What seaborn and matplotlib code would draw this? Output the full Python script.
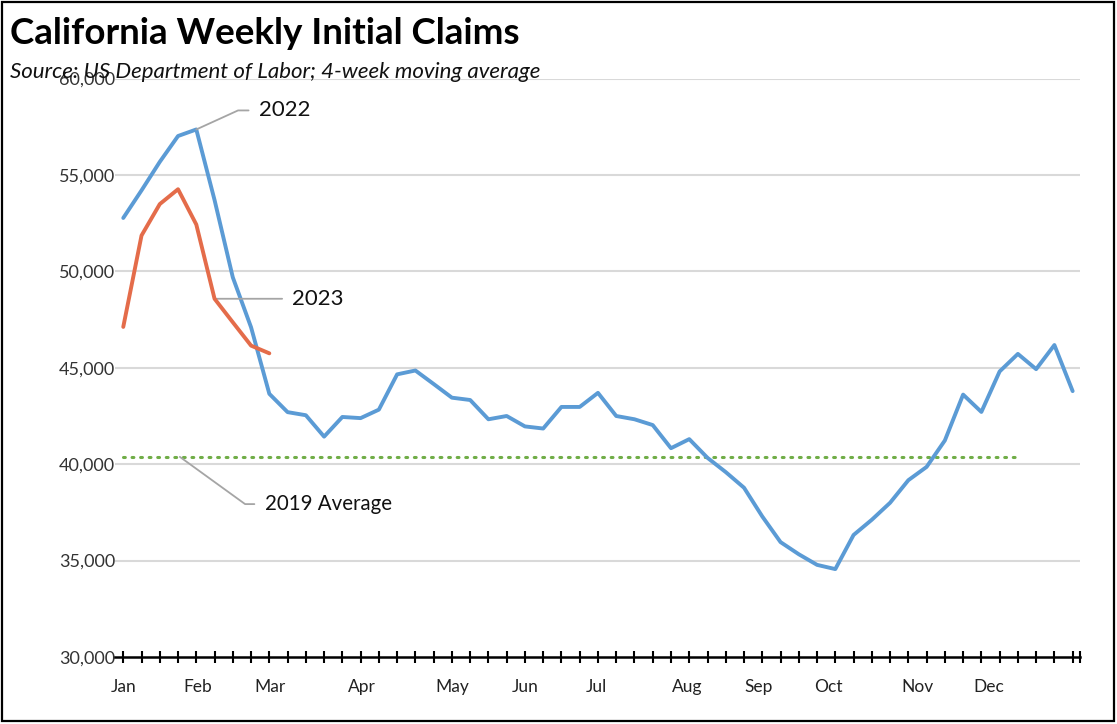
import pandas as pd
import numpy as np
import matplotlib
matplotlib.use('Agg')
import matplotlib.pyplot as plt
from matplotlib.patches import Rectangle
import seaborn as sns

# weekly data, week index 0..52
weeks = list(range(53))
claims_2022 = [52770, 54200, 55680, 57020, 57360, 53700, 49690, 47100, 43650, 42700,
               42540, 41430, 42450, 42390, 42830, 44660, 44860, 44160, 43450, 43330,
               42330, 42500, 41960, 41850, 42970, 42970, 43700, 42500, 42330, 42030,
               40830, 41300, 40330, 39590, 38780, 37290, 35960, 35330, 34780, 34560,
               36330, 37120, 38000, 39170, 39860, 41230, 43610, 42710, 44810, 45720,
               44930, 46180, 43790]
claims_2023 = [47120, 51860, 53490, 54260, 52430, 48580, 47360, 46150, 45750]
avg_2019 = 40380
avg_weeks = 50

month_labels = ['Jan', 'Feb', 'Mar', 'Apr', 'May', 'Jun', 'Jul', 'Aug', 'Sep', 'Oct', 'Nov', 'Dec']
month_pos = [0, 4.06, 8.06, 13.05, 18.04, 22.04, 25.9, 30.9, 34.8, 38.6, 43.5, 47.4]
y_ticks = [30000, 35000, 40000, 45000, 50000, 55000, 60000]

df22 = pd.DataFrame({'week': weeks, 'claims': claims_2022})
df23 = pd.DataFrame({'week': weeks[:len(claims_2023)], 'claims': claims_2023})
df19 = pd.DataFrame({'week': weeks[:avg_weeks], 'claims': [avg_2019] * avg_weeks})

sns.set_theme(style='white')
plt.rcParams['font.family'] = ['Lato', 'DejaVu Sans']

fig = plt.figure(figsize=(11.17, 7.24), dpi=100)
ax = fig.add_axes([0.103, 0.0925, 0.864, 0.799])

#gridlines first so lines sit on top
for v in y_ticks[1:]:
    ax.axhline(v, color='#D9D9D9', linewidth=1.5, zorder=0)

sns.lineplot(data=df19, x='week', y='claims', ax=ax, color='#70AD47',
             linewidth=2.2, linestyle=(0, (0.6, 2.2)), dash_capstyle='round', zorder=2)
sns.lineplot(data=df22, x='week', y='claims', ax=ax, color='#5B9BD5', linewidth=2.8, zorder=3)
sns.lineplot(data=df23, x='week', y='claims', ax=ax, color='#E46C4A', linewidth=2.8, zorder=4)

ax.set_xlim(-0.45, 52.41)
ax.set_ylim(30000, 60000)
ax.set_xlabel('')
ax.set_ylabel('')

# week tick marks, month labels as minor ticks
ax.xaxis.remove_overlapping_locs = False
ax.set_xticks(weeks + [52.41])
ax.set_xticklabels([])
ax.set_xticks(month_pos, minor=True)
ax.set_xticklabels(month_labels, minor=True)
ax.tick_params(axis='x', which='major', direction='inout', length=8, width=1.5, color='black', bottom=True)
ax.tick_params(axis='x', which='minor', length=0, pad=16, labelsize=12.5, labelcolor='#222222')

ax.set_yticks(y_ticks)
ax.set_yticklabels(['{:,}'.format(v) for v in y_ticks])
ax.tick_params(axis='y', length=0, pad=0, labelsize=13, labelcolor='#333333')

for s in ['top', 'right', 'left']:
    ax.spines[s].set_visible(False)
ax.spines['bottom'].set_color('black')
ax.spines['bottom'].set_linewidth(1.8)
ax.spines['bottom'].set_zorder(5)

# leader line labels
gray = '#A5A5A5'
ax.annotate('2022', xy=(4, claims_2022[4]), xytext=(45, 13.7), textcoords='offset points',
            fontsize=16, va='center', ha='left', color='#111111',
            arrowprops=dict(arrowstyle='-', color=gray, lw=1.3, relpos=(0, 0.5),
                            shrinkA=5, shrinkB=0,
                            connectionstyle='angle,angleA=0,angleB=24.5,rad=0'))
ax.annotate('2023', xy=(5, claims_2023[5]), xytext=(56, 0), textcoords='offset points',
            fontsize=16, va='center', ha='left', color='#111111',
            arrowprops=dict(arrowstyle='-', color=gray, lw=1.3, relpos=(0, 0.5),
                            shrinkA=5, shrinkB=0))
ax.annotate('2019 Average', xy=(3.1, avg_2019), xytext=(61, -34), textcoords='offset points',
            fontsize=14.8, va='center', ha='left', color='#111111',
            arrowprops=dict(arrowstyle='-', color=gray, lw=1.3, relpos=(0, 0.5),
                            shrinkA=5, shrinkB=0,
                            connectionstyle='angle,angleA=0,angleB=-35.9,rad=0'))

fig.text(0.009, 1 - 34 / 724, 'California Weekly Initial Claims', fontsize=26.5,
         fontweight='bold', va='center', ha='left', color='black')
fig.text(0.009, 1 - 72 / 724, 'Source: US Department of Labor; 4-week moving average',
         fontsize=16, style='italic', va='center', ha='left', color='#111111')

fig.patches.append(Rectangle((0.002, 0.004), 0.995, 0.993, transform=fig.transFigure,
                             fill=False, edgecolor='black', linewidth=1.6))

fig.savefig('out.png', dpi=100)
